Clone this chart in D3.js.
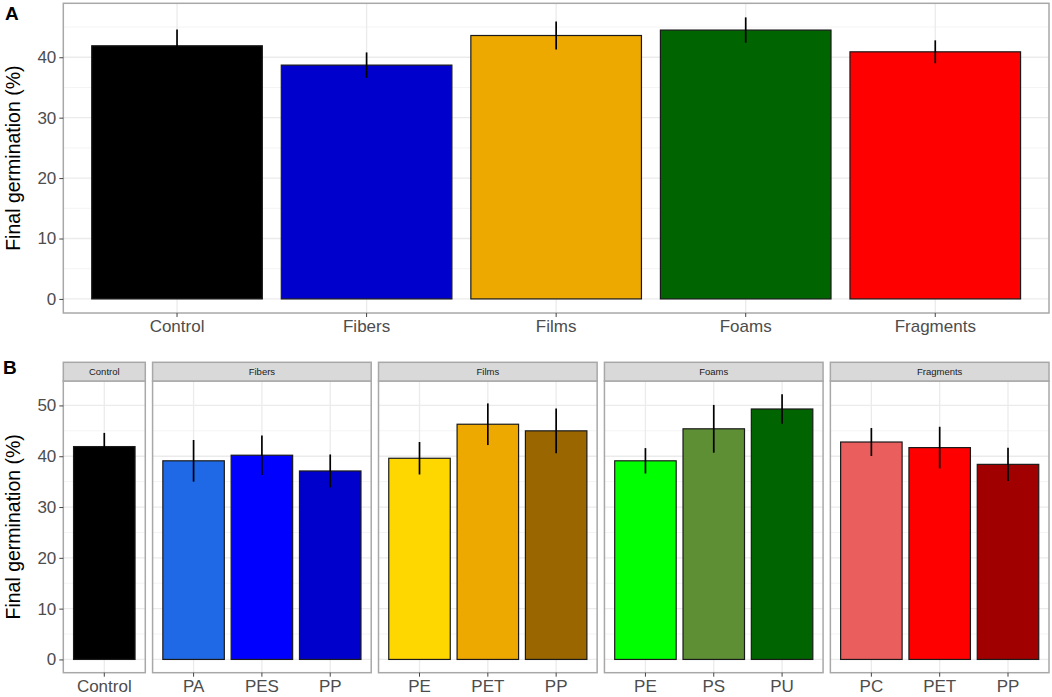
<!DOCTYPE html>
<html>
<head>
<meta charset="utf-8">
<script src="https://cdn.jsdelivr.net/npm/d3@7"></script>
<style>
  body { margin: 0; background: #fff; }
  svg { font-family: "Liberation Sans", Arial, sans-serif; }
</style>
</head>
<body>
<main></main>
<script>
// Panel A: mean final germination by plastic shape
const shapesA = ["Control", "Fibers", "Films", "Foams", "Fragments"];
const meanA = [41.9, 38.7, 43.6, 44.5, 40.9];
const errA = [2.7, 2.1, 2.3, 2.1, 1.9];

// Panel B: by shape (facets) and polymer
const groupsB = ["Control", "Fibers", "Films", "Foams", "Fragments"];
const polymersB = [["Control"], ["PA", "PES", "PP"], ["PE", "PET", "PP"], ["PE", "PS", "PU"], ["PC", "PET", "PP"]];
const meanB = [[41.9], [39.1, 40.2, 37.1], [39.6, 46.3, 45.0], [39.1, 45.4, 49.3], [42.8, 41.7, 38.4]];
const errB = [[2.7], [4.1, 3.9, 3.25], [3.2, 4.1, 4.4], [2.5, 4.7, 2.9], [2.75, 4.1, 3.25]];

const yTicksA = [0, 10, 20, 30, 40];
const yTicksB = [0, 10, 20, 30, 40, 50];

// fill palettes
const paletteA = ["#000000", "#0000CD", "#EEA900", "#006400", "#FF0000"];
const paletteB = [["#000000"], ["#1F69E6", "#0000FF", "#0000CD"], ["#FFD700", "#EEA900", "#996600"],
                  ["#00FF00", "#5F8F35", "#006400"], ["#EB5E5E", "#FF0000", "#A00000"]];

const width = 1052, height = 697;
const left = 63.3, right = 1049;
const gridMajor = "#ebebeb", gridMinor = "#f4f4f4", borderCol = "#a8a8a8";

const svg = d3.select("main").append("svg")
    .attr("width", width)
    .attr("height", height);

// ggplot-like continuous expansion (5%)
function expandDomain(maxVal) {
    const pad = maxVal * 0.05;
    return [-pad, maxVal + pad];
}

function drawYAxis(g, y, ticks, x0) {
    const ax = g.append("g").attr("transform", `translate(${x0},0)`)
        .call(d3.axisLeft(y).tickValues(ticks).tickSize(4).tickPadding(3).tickFormat(d3.format("d")));
    ax.select(".domain").remove();
    ax.selectAll("line").attr("stroke", "#444").attr("stroke-width", 1);
    ax.selectAll("text").attr("fill", "#4d4d4d").style("font-size", "17px");
}

function drawGrid(g, y, x0, x1, ticks) {
    const minor = d3.range(ticks[0] + 5, ticks[ticks.length - 1] + 10, 10)
        .filter(v => y(v) >= y.range()[1]);
    g.selectAll(null).data(minor).join("line")
        .attr("x1", x0).attr("x2", x1)
        .attr("y1", d => y(d)).attr("y2", d => y(d))
        .attr("stroke", gridMinor).attr("stroke-width", 1);
    g.selectAll(null).data(ticks).join("line")
        .attr("x1", x0).attr("x2", x1)
        .attr("y1", d => y(d)).attr("y2", d => y(d))
        .attr("stroke", gridMajor).attr("stroke-width", 1.3);
}

function drawBars(g, x, y, cats, means, errs, colors) {
    const color = d3.scaleOrdinal().domain(cats).range(colors);
    // vertical grid at category centres
    g.selectAll(null).data(cats).join("line")
        .attr("x1", d => x(d) + x.bandwidth() / 2).attr("x2", d => x(d) + x.bandwidth() / 2)
        .attr("y1", y.range()[0]).attr("y2", y.range()[1])
        .attr("stroke", gridMajor).attr("stroke-width", 1.3);
    g.selectAll(null).data(cats).join("rect")
        .attr("x", d => x(d))
        .attr("width", x.bandwidth())
        .attr("y", (d, i) => y(means[i]))
        .attr("height", (d, i) => y(0) - y(means[i]))
        .attr("fill", d => color(d))
        .attr("stroke", "#1a1a1a")
        .attr("stroke-width", 1.2);
    g.selectAll(null).data(cats).join("line")
        .attr("x1", d => x(d) + x.bandwidth() / 2).attr("x2", d => x(d) + x.bandwidth() / 2)
        .attr("y1", (d, i) => y(means[i] - errs[i]))
        .attr("y2", (d, i) => y(means[i] + errs[i]))
        .attr("stroke", "#000").attr("stroke-width", 1.7);
}

function drawXAxis(g, x, y0) {
    const ax = g.append("g").attr("transform", `translate(0,${y0})`)
        .call(d3.axisBottom(x).tickSize(4).tickPadding(3));
    ax.select(".domain").remove();
    ax.selectAll("line").attr("stroke", "#444").attr("stroke-width", 1);
    ax.selectAll("text").attr("fill", "#4d4d4d").style("font-size", "17px");
}

function yTitle(cy) {
    svg.append("text")
        .attr("transform", `translate(20,${cy}) rotate(-90)`)
        .attr("text-anchor", "middle")
        .style("font-size", "19.5px")
        .attr("fill", "#000")
        .text("Final germination (%)");
}

// ---------- Panel A ----------
const topA = 3.3, botA = 313;
const yA = d3.scaleLinear()
    .domain(expandDomain(d3.max(meanA.map((m, i) => m + errA[i]))))
    .range([botA, topA]);
const xA = d3.scaleBand().domain(shapesA).range([left, right])
    .paddingInner(0.1).paddingOuter(0.15);

const gA = svg.append("g");
drawGrid(gA, yA, left, right, yTicksA);
drawBars(gA, xA, yA, shapesA, meanA, errA, paletteA);
gA.append("rect").attr("x", left).attr("y", topA)
    .attr("width", right - left).attr("height", botA - topA)
    .attr("fill", "none").attr("stroke", borderCol).attr("stroke-width", 1.5);
drawYAxis(gA, yA, yTicksA, left);
drawXAxis(gA, xA, botA);
yTitle((topA + botA) / 2);
svg.append("text").attr("x", 5).attr("y", 20)
    .style("font-size", "19px").style("font-weight", "bold").text("A");

// ---------- Panel B ----------
const stripTop = 362.3, topB = 381, botB = 672.7, gap = 7.3;
const maxB = d3.max(meanB.flat().map((m, i) => m + errB.flat()[i]));
const yB = d3.scaleLinear().domain(expandDomain(maxB)).range([botB, topB]);

// facet widths proportional to number of categories (space = "free")
const units = polymersB.map(p => p.length + 0.2);
const unitScale = d3.scaleLinear()
    .domain([0, d3.sum(units)])
    .range([0, right - left - gap * (groupsB.length - 1)]);

let cursor = left;
groupsB.forEach((grp, gi) => {
    const w = unitScale(units[gi]);
    const x0 = cursor, x1 = cursor + w;
    cursor = x1 + gap;
    const x = d3.scaleBand().domain(polymersB[gi]).range([x0, x1])
        .paddingInner(0.1).paddingOuter(0.15);
    const g = svg.append("g");
    drawGrid(g, yB, x0, x1, yTicksB);
    drawBars(g, x, yB, polymersB[gi], meanB[gi], errB[gi], paletteB[gi]);
    g.append("rect").attr("x", x0).attr("y", topB)
        .attr("width", w).attr("height", botB - topB)
        .attr("fill", "none").attr("stroke", borderCol).attr("stroke-width", 1.5);
    // strip
    g.append("rect").attr("x", x0).attr("y", stripTop)
        .attr("width", w).attr("height", topB - stripTop)
        .attr("fill", "#d9d9d9").attr("stroke", borderCol).attr("stroke-width", 1.5);
    g.append("text").attr("x", (x0 + x1) / 2).attr("y", (stripTop + topB) / 2 + 3.4)
        .attr("text-anchor", "middle").style("font-size", "9.5px").attr("fill", "#1a1a1a")
        .text(grp);
    drawXAxis(g, x, botB);
    if (gi === 0) drawYAxis(g, yB, yTicksB, x0);
});
yTitle((topB + botB) / 2);
svg.append("text").attr("x", 3).attr("y", 374)
    .style("font-size", "19px").style("font-weight", "bold").text("B");
</script>
</body>
</html>
